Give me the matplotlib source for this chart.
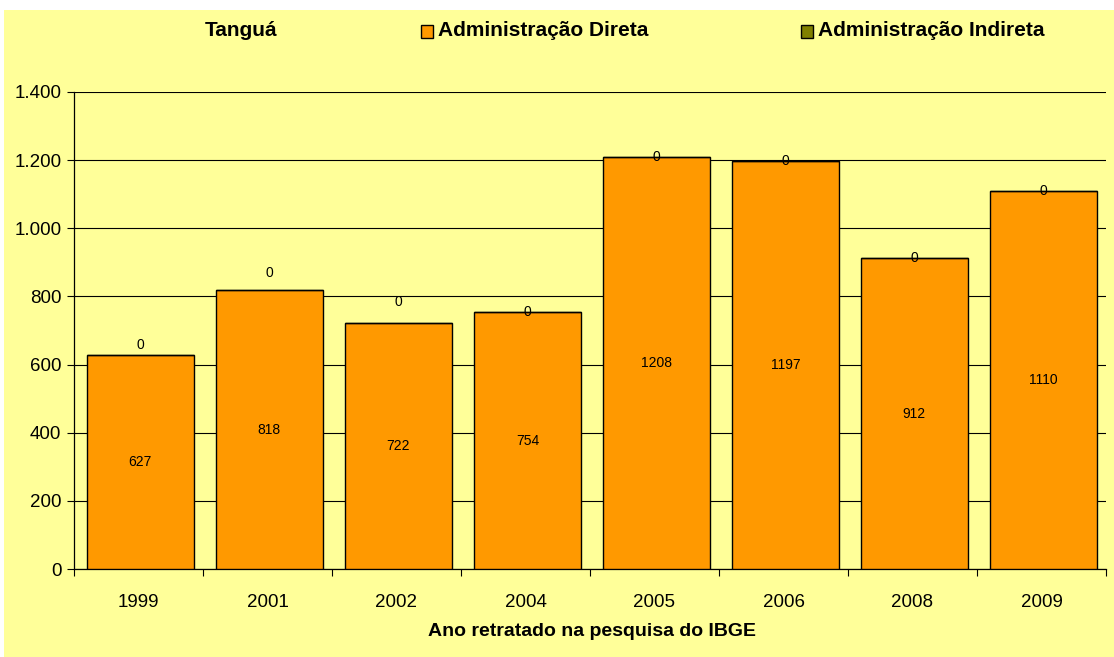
"""
Tanguá: servidores por tipo de administração, barras empilhadas por ano.
"""

import matplotlib.pyplot as plt
import numpy as np
from matplotlib.patches import Rectangle
from matplotlib.ticker import FuncFormatter


anos = ["1999", "2001", "2002", "2004", "2005", "2006", "2008", "2009"]
adm_direta = [627, 818, 722, 754, 1208, 1197, 912, 1110]
adm_indireta = [0, 0, 0, 0, 0, 0, 0, 0]

COLOR_BG = "#FFFF99"
COLOR_DIRETA = "#FF9900"
COLOR_INDIRETA = "#808000"

W, H = 1114, 657

plt.rcParams["font.family"] = ["Liberation Sans", "DejaVu Sans"]

fig = plt.figure(figsize=(W / 100, H / 100), dpi=100, facecolor="white")
fig.patches.append(Rectangle((4 / W, 0), 1 - 4 / W, 1 - 10 / H, transform=fig.transFigure,
                             facecolor=COLOR_BG, edgecolor="none", zorder=-10))

ax = fig.add_axes([74 / W, (H - 569) / H, (1106 - 74) / W, (569 - 92) / H])
ax.set_facecolor(COLOR_BG)

x = np.arange(len(anos))
width = 0.83
ax.bar(x + 0.015, adm_direta, width, color=COLOR_DIRETA, edgecolor="black", linewidth=1, zorder=3)
ax.bar(x + 0.015, adm_indireta, width, bottom=adm_direta, color=COLOR_INDIRETA, edgecolor="black",
       linewidth=1, zorder=3)

# value labels: direta in the middle, indireta near the top (Excel nudges a few)
lift = [10, 17, 21, 0, 0, 0, 0, 0]
for i, (d, ind) in enumerate(zip(adm_direta, adm_indireta)):
    ax.text(x[i] + 0.015, d / 2, str(d), ha="center", va="center", fontsize=10, zorder=5)
    ax.annotate(str(ind), (x[i] + 0.015, d + ind), xytext=(0, lift[i] * 0.72),
                textcoords="offset points", ha="center", va="center", fontsize=10, zorder=5)

ax.set_ylim(0, 1400)
ax.set_xlim(-0.5, len(anos) - 0.5)
ax.set_yticks(np.arange(0, 1401, 200))
ax.yaxis.set_major_formatter(FuncFormatter(lambda v, p: f"{v:,.0f}".replace(",", ".")))
ax.yaxis.grid(True, color="black", linewidth=0.8, zorder=1)
ax.set_axisbelow(True)

ax.set_xticks(x)
ax.set_xticklabels(anos)
ax.set_xticks(np.arange(-0.5, len(anos), 1), minor=True)
ax.tick_params(axis="x", which="major", length=0, pad=18, labelsize=13.5)
ax.tick_params(axis="x", which="minor", length=5, width=0.8, direction="out")
ax.tick_params(axis="y", length=5, width=0.8, direction="out", labelsize=13.5, pad=4)

ax.spines["top"].set_visible(False)
ax.spines["right"].set_visible(False)
ax.spines["left"].set_linewidth(0.9)
ax.spines["bottom"].set_linewidth(0.9)

fig.text(592 / W, 1 - 631 / H, "Ano retratado na pesquisa do IBGE", ha="center", va="center",
         fontsize=14, fontweight="bold")

# legend row at the top
fig.text(241 / W, 1 - 30 / H, "Tanguá", ha="center", va="center", fontsize=15, fontweight="bold")
for sx, col, label in [(421, COLOR_DIRETA, "Administração Direta"),
                       (801, COLOR_INDIRETA, "Administração Indireta")]:
    fig.patches.append(Rectangle((sx / W, 1 - 38 / H), 12 / W, 13 / H, transform=fig.transFigure,
                                 facecolor=col, edgecolor="black", linewidth=1))
    fig.text((sx + 17) / W, 1 - 31 / H, label, ha="left", va="center", fontsize=15,
             fontweight="bold")

fig.savefig("out.png", dpi=100, facecolor="white")
